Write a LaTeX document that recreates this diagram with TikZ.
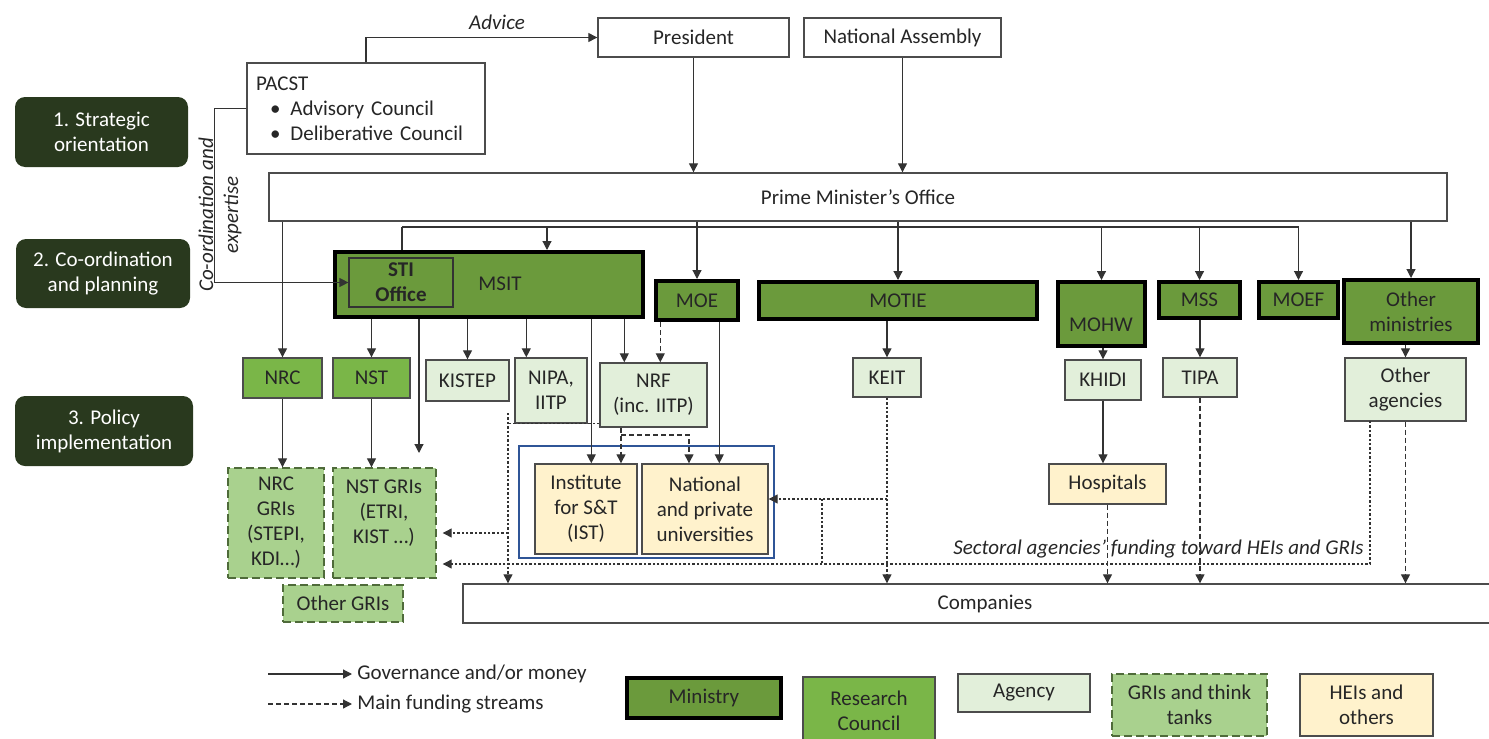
\documentclass[tikz,border=0pt]{standalone}
\usepackage{fontspec}
\setmainfont{Carlito}
\usetikzlibrary{arrows.meta,calc}
\definecolor{ministryc}{HTML}{6B9A3C}
\definecolor{councilc}{HTML}{7AB648}
\definecolor{agencyc}{HTML}{E2EFDA}
\definecolor{gric}{HTML}{A9D18E}
\definecolor{heic}{HTML}{FFF2CC}
\definecolor{darkc}{HTML}{29391E}
\definecolor{bluec}{HTML}{2F5597}
\definecolor{gridraw}{HTML}{4F6B3A}
\newcommand\fsz{\fontsize{10.5}{12.5}\selectfont}
\newcommand\boxat[7]{\node[#6, minimum width={(#4-#2)*0.5pt}, minimum height={(#5-#3)*0.5pt}] (#1) at ({(#2+#4)/2},{(#3+#5)/2}) {#7};}
\begin{document}
\begin{tikzpicture}[x=0.5pt,y=-0.5pt,
  every node/.style={font=\fsz, text=black!85, inner sep=1pt},
  box/.style={draw=black!70, line width=0.7pt, align=center},
  ministry/.style={box, draw=black, line width=2pt, fill=ministryc},
  council/.style={box, fill=councilc},
  agency/.style={box, fill=agencyc},
  gri/.style={box, fill=gric, draw=gridraw, dash pattern=on 4pt off 2pt},
  hei/.style={box, fill=heic},
  plain/.style={box, fill=white},
  lab/.style={fill=darkc, rounded corners=5pt, text=white, align=center},
  arr/.style={-{Triangle[width=4.5pt,length=4.5pt]}, line width=0.6pt, draw=black!80},
  ln/.style={line width=0.6pt, draw=black!80},
  darr/.style={arr, dash pattern=on 2.5pt off 1.5pt},
  farr/.style={arr, dash pattern=on 1.2pt off 1pt},
  fln/.style={ln, dash pattern=on 1.2pt off 1pt},
  txt/.style={font=\fsz}
]
\useasboundingbox (0,0) rectangle (1489,739);

% stage labels
\boxat{l1}{15}{97}{188}{167}{lab}{1. Strategic\\orientation}
\boxat{l2}{16}{239}{190}{308}{lab}{2. Co-ordination\\and planning}
\boxat{l3}{15}{396}{193}{466}{lab}{3. Policy\\implementation}

% top level
\boxat{pres}{598}{18}{789}{57}{plain}{President}
\boxat{na}{804}{18}{1001}{57}{plain}{National Assembly}
\boxat{pacst}{247}{63}{485}{154}{plain, align=left, text width=110pt}{PACST\\\hspace*{7pt}\textbullet\hspace{5pt}Advisory Council\\\hspace*{7pt}\textbullet\hspace{5pt}Deliberative Council}
\boxat{pmo}{269}{173}{1447}{221}{plain}{Prime Minister’s Office}

% ministries
\boxat{msit}{335}{252}{643}{317}{ministry}{}
\node[txt] (msitt) at (500,284) {MSIT};
\boxat{sti}{349}{258}{453}{307}{box, draw=black!80, fill=ministryc, line width=0.6pt, font=\fsz\bfseries}{STI\\Office}
\boxat{moe}{656}{281}{738}{320}{ministry}{MOE}
\boxat{motie}{759}{282}{1037}{319}{ministry}{MOTIE}
\boxat{mohw}{1058}{282}{1145}{346}{ministry}{}
\node[txt] (mohwt) at (1101,325) {MOHW};
\boxat{mss}{1159}{282}{1240}{318}{ministry}{MSS}
\boxat{moef}{1259}{282}{1338}{318}{ministry}{MOEF}
\boxat{othmin}{1344}{280}{1478}{343}{ministry}{Other\\ministries}

% councils and agencies
\boxat{nrc}{243}{358}{322}{398}{council}{NRC}
\boxat{nst}{333}{358}{410}{398}{council}{NST}
\boxat{kistep}{426}{360}{509}{401}{agency}{KISTEP}
\boxat{nipa}{515}{358}{587}{423}{agency}{NIPA,\\IITP}
\boxat{nrf}{600}{363}{707}{427}{agency}{NRF\\(inc. IITP)}
\boxat{keit}{853}{358}{921}{397}{agency}{KEIT}
\boxat{khidi}{1065}{360}{1141}{400}{agency}{KHIDI}
\boxat{tipa}{1163}{358}{1237}{397}{agency}{TIPA}
\boxat{othag}{1345}{358}{1466}{421}{agency}{Other\\agencies}

% performers
\boxat{nrcg}{228}{468}{324}{578}{gri}{NRC\\GRIs\\(STEPI,\\KDI…)}
\boxat{nstg}{333}{468}{436}{578}{gri}{}
\node[txt, align=center] (nstgt) at (384,513) {NST GRIs\\(ETRI,\\KIST …)};
\boxat{othg}{283}{585}{403}{622}{gri}{Other GRIs}
\boxat{heibox}{519}{446}{774}{558}{draw=bluec, line width=1pt}{}
\boxat{ist}{535}{464}{637}{554}{hei}{Institute\\for S\&T\\(IST)}
\boxat{univ}{642}{464}{768}{554}{hei}{National\\and private\\universities}
\boxat{hosp}{1049}{464}{1166}{504}{hei}{Hospitals}
\boxat{comp}{463}{584}{1500}{623}{plain}{}
\node[txt] (compt) at (985,604) {Companies};

% labels
\node[txt, font=\fsz\itshape] (advlab) at (497,22) {Advice};
\node[txt, font=\fsz\itshape, rotate=90, align=center] (coordlab) at (220,215) {Co-ordination and\\expertise};
\node[txt, font=\fsz\itshape, anchor=east] (sect) at (1366,549) {Sectoral agencies’ funding toward HEIs and GRIs};

% top connectors
\draw[arr] (pacst.north) |- (pres.west);
\draw[arr] (pacst.west) -- ++(-32,0) |- (sti.west);
\draw[arr] (pres.south) -- (pres.south |- pmo.north);
\draw[arr] (na.south) -- (na.south |- pmo.north);

% PMO to ministries
\coordinate (busL) at (402,227);
\coordinate (b1) at (547,227);
\draw[ln] (busL) -- (busL -| moef.north);
\draw[ln] (busL) -- (busL |- msit.north);
\draw[arr] (b1) -- (b1 |- msit.north);
\draw[arr] (pmo.south -| nrc.north) -- (nrc.north);
\draw[arr] (pmo.south -| moe.north) -- (moe.north);
\draw[arr] (pmo.south -| motie.north) -- (motie.north);
\draw[arr] (busL -| mohw.north) -- (mohw.north);
\draw[arr] (busL -| mss.north) -- (mss.north);
\draw[arr] (busL -| moef.north) -- (moef.north);
\draw[arr] (pmo.south -| othmin.north) -- (othmin.north);

% ministries to agencies
\path (nipa.north west) ++(12,0) coordinate (nipaIn);
\path (nrf.north west) ++(25,0) coordinate (nrfIn);
\path (nrf.north west) ++(61,0) coordinate (nrfIn2);
\path (ist.north west) ++(57,0) coordinate (istIn);
\path (univ.north west) ++(78,0) coordinate (univIn);
\coordinate (gIn) at (419,453);
\draw[arr] (msit.south -| nst.north) -- (nst.north);
\draw[arr] (msit.south -| kistep.north) -- (kistep.north);
\draw[arr] (msit.south -| nipaIn) -- (nipaIn);
\draw[arr] (msit.south -| nrfIn) -- (nrfIn);
\draw[darr] (moe.south -| nrfIn2) -- (nrfIn2);
\draw[arr] (msit.south -| gIn) -- (gIn);
\draw[arr] (msit.south -| istIn) -- (istIn);
\draw[arr] (moe.south -| univIn) -- (univIn);
\draw[arr] (motie.south -| keit.north) -- (keit.north);
\draw[arr] (mohw.south -| khidi.north) -- (khidi.north);
\draw[arr] (mss.south -| tipa.north) -- (tipa.north);
\draw[arr] (othmin.south -| othag.north) -- (othag.north);
\draw[arr] (nrc.south) -- (nrc.south |- nrcg.north);
\draw[arr] (nst.south) -- (nst.south |- nstg.north);
\draw[arr] (khidi.south) -- (khidi.south |- hosp.north);

% NRF dashed streams
\coordinate (nd1) at (621,435);
\draw[darr] (nrf.south -| nd1) -- (ist.north -| nd1);
\draw[darr] (nd1) -| (univ.north -| 689,0);

% dotted funding streams
\coordinate (fv) at (508,413);
\draw[fln] (nrf.west |- nipa.south) -- (fv |- nipa.south);
\draw[farr] (fv) -- (fv |- comp.north);
\draw[farr, shorten >=3pt] (fv |- 0,533) -- (nstg.east |- 0,533);
\coordinate (oa) at (1370,421);
\draw[farr, shorten >=3pt] (oa) |- (nstg.east |- 0,564);
\draw[farr] (keit.south) -- (keit.south |- comp.north);
\draw[farr] (keit.south |- 0,499) -- (univ.east |- 0,499);
\draw[fln] (822,499) -- (822,564);
\draw[darr] (hosp.south) -- (hosp.south |- comp.north);
\draw[darr] (tipa.south) -- (tipa.south |- comp.north);
\draw[darr] (othag.south) -- (othag.south |- comp.north);

% legend
\coordinate (lg1a) at (268,674); \coordinate (lg1b) at (352,674);
\coordinate (lg2a) at (268,704); \coordinate (lg2b) at (352,704);
\draw[arr] (lg1a) -- (lg1b);
\draw[darr] (lg2a) -- (lg2b);
\node[txt, anchor=west] (lgt1) at (355,674) {Governance and/or money};
\node[txt, anchor=west] (lgt2) at (355,704) {Main funding streams};
\boxat{lgmin}{627}{678}{781}{718}{ministry}{Ministry}
\boxat{lgrc}{803}{677}{935}{745}{council}{Research\\Council}
\boxat{lgag}{958}{674}{1090}{712}{agency}{Agency}
\boxat{lggri}{1112}{674}{1267}{736}{gri}{GRIs and think\\tanks}
\boxat{lghei}{1300}{674}{1433}{736}{hei}{HEIs and\\others}
\end{tikzpicture}
\end{document}
